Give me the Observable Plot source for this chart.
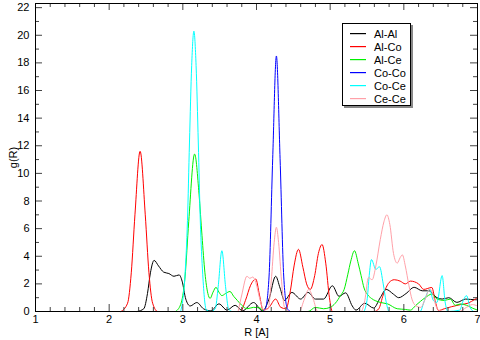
<!DOCTYPE html>
<html>
<head>
<meta charset="utf-8">
<script src="https://cdn.jsdelivr.net/npm/d3@7"></script>
<script src="https://cdn.jsdelivr.net/npm/@observablehq/plot@0.6"></script>
<style>
  html, body { margin: 0; padding: 0; background: #fff; }
  #wrap { position: relative; width: 480px; height: 340px; font-family: "Liberation Sans", Arial, sans-serif; }
  #legend { position: absolute; left: 342px; top: 23px; width: 69px; height: 83px; border: 1px solid #000; background: #fff; box-shadow: 2px 2px 0 #888; box-sizing: border-box; padding-top: 4px; }
  .row { height: 12.9px; display: flex; align-items: center; font-size: 11px; color: #000; }
  .row svg { display: block; margin-left: 7px; margin-right: 8px; flex: none; }
</style>
</head>
<body>
<div id="wrap"><div id="chart"></div><div id="legend"></div></div>
<script>
// ---- data ----
const seriesNames = ["Al-Al", "Al-Co", "Al-Ce", "Co-Co", "Co-Ce", "Ce-Ce"];
const seriesColors = ["#000000", "#ff0000", "#00f000", "#0000ff", "#00ffff", "#ffa0a8"];

const alAl = [[2.38,0],[2.47,0.2],[2.52,1.3],[2.56,2.8],[2.61,3.7],[2.67,3.3],[2.74,2.85],[2.81,2.75],[2.88,2.55],[2.95,2.65],[2.99,2.2],[3.04,0.9],[3.1,0.4],[3.19,0.65],[3.28,0.2],[3.38,0.05],[3.49,0.55],[3.6,0.1],[3.71,0.45],[3.81,0.05],[3.96,0.65],[4.08,0.05],[4.17,0.9],[4.26,2.55],[4.32,1.7],[4.38,0.8],[4.48,1.38],[4.6,0.9],[4.7,1.38],[4.8,0.9],[4.91,0.9],[5.03,1.86],[5.12,1.1],[5.21,1.35],[5.3,0.4],[5.35,0.1],[5.47,0.6],[5.59,0.25],[5.68,1.0],[5.76,1.6],[5.86,1.25],[5.93,1.0],[6.03,1.3],[6.14,1.75],[6.25,1.5],[6.34,1.5],[6.45,1.0],[6.52,0.9],[6.61,1.0],[6.72,0.66],[6.84,0.9],[6.97,0.85],[7,0.85]];

const alCo = [[2.16,0],[2.25,0.6],[2.3,2.8],[2.35,7.0],[2.42,11.6],[2.49,7.0],[2.54,2.8],[2.59,0.6],[2.66,0],[3.78,0],[3.85,0.8],[3.92,1.9],[3.99,2.35],[4.04,1.2],[4.09,0.1],[4.17,0.3],[4.26,0.9],[4.33,0.3],[4.4,0.2],[4.46,1.5],[4.51,3.3],[4.57,4.5],[4.63,3.2],[4.68,2.0],[4.73,1.6],[4.79,2.6],[4.84,4.2],[4.89,4.85],[4.94,3.5],[4.99,1.0],[5.03,0],[5.6,0],[5.66,0.2],[5.72,1.2],[5.8,2.1],[5.87,2.3],[5.95,2.2],[6.02,2.0],[6.09,2.2],[6.2,2.0],[6.27,1.6],[6.38,1.74],[6.43,0.66],[6.47,0.07],[6.55,0.2],[6.65,0.35],[6.77,0.5],[6.87,0.6],[6.97,0.9],[7,1.0]];

const alCe = [[2.9,0],[2.97,0.5],[3.03,2.5],[3.08,6.5],[3.16,11.4],[3.22,8.5],[3.26,5.5],[3.3,2.8],[3.34,1.3],[3.37,0.95],[3.41,1.4],[3.45,1.75],[3.49,1.4],[3.53,1.15],[3.58,1.3],[3.64,1.45],[3.69,1.1],[3.74,0.8],[3.8,0.45],[3.87,0.2],[3.96,0.3],[4.05,0.25],[4.1,0],[4.7,0],[4.8,0.3],[4.91,0.2],[5.0,0.3],[5.07,0.6],[5.14,1.15],[5.19,1.6],[5.24,2.7],[5.28,3.65],[5.33,4.4],[5.38,3.5],[5.42,2.6],[5.46,1.7],[5.51,1.2],[5.56,0.95],[5.68,0.66],[5.78,0.55],[5.91,0.2],[6.02,0.15],[6.09,0.1],[6.16,0.43],[6.29,1.0],[6.38,1.26],[6.45,0.9],[6.55,0.8],[6.63,0.9],[6.7,0.45],[6.77,0.55],[6.85,0.45],[6.93,0.25],[7,0.1]];

const coCo = [[4.08,0],[4.12,0.2],[4.17,2.5],[4.22,11.1],[4.27,18.5],[4.32,11.1],[4.37,2.5],[4.42,0.2],[4.46,0]];

const coCe = [[2.97,0],[3.03,2.7],[3.063,6.6],[3.09,12.2],[3.12,17.8],[3.15,20.3],[3.18,17.8],[3.21,12.2],[3.237,6.6],[3.27,2.7],[3.32,0.1],[3.38,0],[3.44,0.2],[3.48,1.8],[3.53,4.4],[3.58,1.8],[3.62,0.2],[3.67,0],[5.45,0],[5.5,0.8],[5.53,2.6],[5.56,3.76],[5.62,3.05],[5.67,3.24],[5.72,2.0],[5.76,0.7],[5.8,0],[6.22,0],[6.28,0.8],[6.35,1.6],[6.4,0.8],[6.45,0.66],[6.52,2.6],[6.56,0.7],[6.6,0],[6.76,0.1],[6.8,0.7],[6.85,1.15],[6.9,0.3],[6.95,0],[7,0]];

const ceCe = [[3.75,0],[3.8,1.2],[3.87,2.55],[3.91,2.4],[3.95,2.5],[3.99,2.1],[4.05,0.8],[4.1,0.1],[4.16,0.2],[4.2,2.2],[4.24,5.0],[4.27,6.1],[4.3,5.0],[4.34,2.2],[4.38,0.3],[4.45,0],[4.58,0],[4.65,0.9],[4.71,1.6],[4.77,0.9],[4.83,0],[5.42,0],[5.47,0.8],[5.52,2.45],[5.57,2.3],[5.62,3.3],[5.68,5.2],[5.73,6.5],[5.77,7.0],[5.81,6.3],[5.86,4.2],[5.91,3.5],[5.95,3.9],[5.98,4.1],[6.02,3.3],[6.07,1.86],[6.11,0.9],[6.16,0.43],[6.23,0.3],[6.29,0.9],[6.35,1.65],[6.39,1.3],[6.43,0.5],[6.47,0.1],[6.55,0],[6.75,0],[6.85,0.3],[6.93,0.5],[7,0.4]];

const seriesData = [alAl, alCo, alCe, coCo, coCe, ceCe];

const xMajor = [1, 2, 3, 4, 5, 6, 7];
const xMinor = [1.2,1.4,1.6,1.8,2.2,2.4,2.6,2.8,3.2,3.4,3.6,3.8,4.2,4.4,4.6,4.8,5.2,5.4,5.6,5.8,6.2,6.4,6.6,6.8];
const yMajor = [0, 2, 4, 6, 8, 10, 12, 14, 16, 18, 20, 22];
const yMinor = [1, 3, 5, 7, 9, 11, 13, 15, 17, 19, 21];
const xLabel = "R [A]";
const yLabel = "g(R)";

// ---- build table ----
const rows = seriesNames.flatMap((s, i) => seriesData[i].map(([x, y]) => ({s, x, y})));

const W = 480, H = 340, mL = 35, mR = 3, mT = 3, mB = 29;
const plotW = W - mL - mR, plotH = H - mT - mB;
const major = 7, minor = 4;
const tickColor = "#444";

const lineMarks = seriesNames.map((s) =>
  Plot.line(rows.filter(d => d.s === s), {x: "x", y: "y", stroke: "s", curve: "monotone-x", strokeWidth: 1})
);

const chart = Plot.plot({
  width: W,
  height: H,
  marginLeft: mL,
  marginRight: mR,
  marginTop: mT,
  marginBottom: mB,
  style: {fontFamily: "Liberation Sans, Arial, sans-serif", fontSize: "11px", background: "#fff", color: "#000", overflow: "visible"},
  x: {domain: [1, 7]},
  y: {domain: [0, 22.3]},
  color: {domain: seriesNames, range: seriesColors},
  marks: [
    ...lineMarks,
    // inward ticks on all four sides
    Plot.tickX(xMajor, {insetTop: plotH - major, stroke: tickColor}),
    Plot.tickX(xMinor, {insetTop: plotH - minor, stroke: tickColor}),
    Plot.tickX(xMajor, {insetBottom: plotH - major, stroke: tickColor}),
    Plot.tickX(xMinor, {insetBottom: plotH - minor, stroke: tickColor}),
    Plot.tickY(yMajor, {insetRight: plotW - major, stroke: tickColor}),
    Plot.tickY(yMinor, {insetRight: plotW - minor, stroke: tickColor}),
    Plot.tickY(yMajor, {insetLeft: plotW - major, stroke: tickColor}),
    Plot.tickY(yMinor, {insetLeft: plotW - minor, stroke: tickColor}),
    // tick labels and axis titles
    Plot.axisX({anchor: "bottom", ticks: xMajor, tickSize: 0, tickPadding: 4, tickFormat: d3.format("d"), label: xLabel, labelAnchor: "center", labelArrow: "none", labelOffset: 24}),
    Plot.axisY({anchor: "left", ticks: yMajor, tickSize: 0, tickPadding: 6, tickFormat: d3.format("d"), label: yLabel, labelAnchor: "center", labelArrow: "none", labelOffset: 26}),
    Plot.frame({stroke: "#000"})
  ]
});
document.getElementById("chart").appendChild(chart);

// ---- legend ----
const legend = document.getElementById("legend");
seriesNames.forEach((s, i) => {
  const row = document.createElement("div");
  row.className = "row";
  row.innerHTML = `<svg width="16" height="4"><rect x="0" y="1" width="16" height="1.2" fill="${seriesColors[i]}"/></svg><span>${s}</span>`;
  legend.appendChild(row);
});
</script>
</body>
</html>
